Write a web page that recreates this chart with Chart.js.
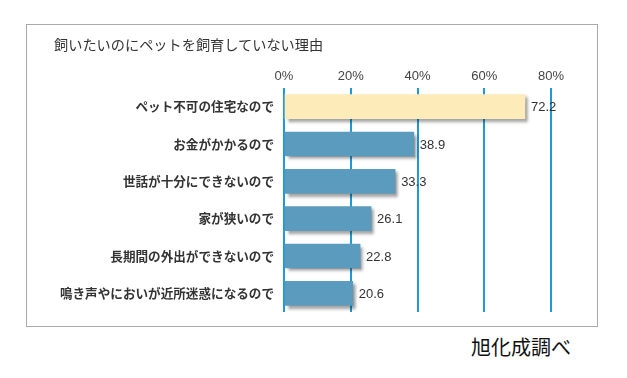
<!DOCTYPE html>
<html>
<head>
<meta charset="utf-8">
<script src="https://cdn.jsdelivr.net/npm/chart.js@4"></script>
<style>
  body { margin: 0; background: #fff; width: 627px; height: 378px; overflow: hidden; }
  #box { position: absolute; left: 26px; top: 24px; width: 570px; height: 301px; border: 1px solid #aaa; }
  #chartWrap { position: absolute; left: 0; top: 0; width: 570px; height: 301px; }
  #title { position: absolute; left: 27px; top: 9px; font: 14.2px "Noto Sans CJK JP", sans-serif; color: #333; white-space: nowrap; }
  #source { position: absolute; left: 471px; top: 332px; font: 20px "Noto Sans CJK JP", sans-serif; color: #111; white-space: nowrap; }
</style>
</head>
<body>
<div id="box">
  <div id="chartWrap"><canvas id="reasonChart"></canvas></div>
  <div id="title">飼いたいのにペットを飼育していない理由</div>
</div>
<div id="source">旭化成調べ</div>
<script>
const categories = [
  "ペット不可の住宅なので",
  "お金がかかるので",
  "世話が十分にできないので",
  "家が狭いので",
  "長期間の外出ができないので",
  "鳴き声やにおいが近所迷惑になるので"
];
const percents = [72.2, 38.9, 33.3, 26.1, 22.8, 20.6];
const axisMax = 80;
const axisStep = 20;

const highlightColor = "#fdebb9";
const barColor = "#5b9bbd";
const gridColor = "#1f9ad6";

// shadow under bars + value labels at bar ends
const barExtras = {
  id: "barExtras",
  beforeDatasetsDraw(chart) {
    const ctx = chart.ctx;
    ctx.save();
    ctx.shadowColor = "rgba(0,0,0,0.4)";
    ctx.shadowOffsetX = 3;
    ctx.shadowOffsetY = 3;
    ctx.shadowBlur = 3;
  },
  afterDatasetsDraw(chart) {
    const ctx = chart.ctx;
    ctx.restore();
    const meta = chart.getDatasetMeta(0);
    ctx.save();
    ctx.font = '13px "Liberation Sans", Arial, sans-serif';
    ctx.fillStyle = "#333";
    ctx.textBaseline = "middle";
    ctx.textAlign = "left";
    meta.data.forEach((bar, i) => {
      ctx.fillText(percents[i].toFixed(1), bar.x + 6, bar.y + 1);
    });
    ctx.restore();
  }
};

const ctx = document.getElementById("reasonChart").getContext("2d");
new Chart(ctx, {
  type: "bar",
  data: {
    labels: categories,
    datasets: [{
      data: percents,
      backgroundColor: percents.map((v, i) => i === 0 ? highlightColor : barColor),
      borderWidth: 0,
      barThickness: 24
    }]
  },
  options: {
    indexAxis: "y",
    responsive: true,
    maintainAspectRatio: false,
    animation: false,
    layout: { padding: { top: 43, right: 46, bottom: 14, left: 0 } },
    plugins: {
      legend: { display: false },
      tooltip: { enabled: false }
    },
    scales: {
      x: {
        position: "top",
        min: 0,
        max: axisMax,
        ticks: {
          stepSize: axisStep,
          padding: 4,
          color: "#444",
          font: { family: '"Liberation Sans", Arial, sans-serif', size: 13 },
          callback: v => v + "%"
        },
        grid: { color: gridColor, lineWidth: 2, drawTicks: false },
        border: { display: false },
        afterFit(scale) { scale.height = 20; }
      },
      y: {
        ticks: {
          padding: 2,
          color: "#333",
          font: { family: '"Noto Sans CJK JP", sans-serif', size: 12.6, weight: "bold" }
        },
        grid: { display: false },
        border: { display: false },
        afterFit(scale) { scale.width = 257; }
      }
    }
  },
  plugins: [barExtras]
});
</script>
</body>
</html>
